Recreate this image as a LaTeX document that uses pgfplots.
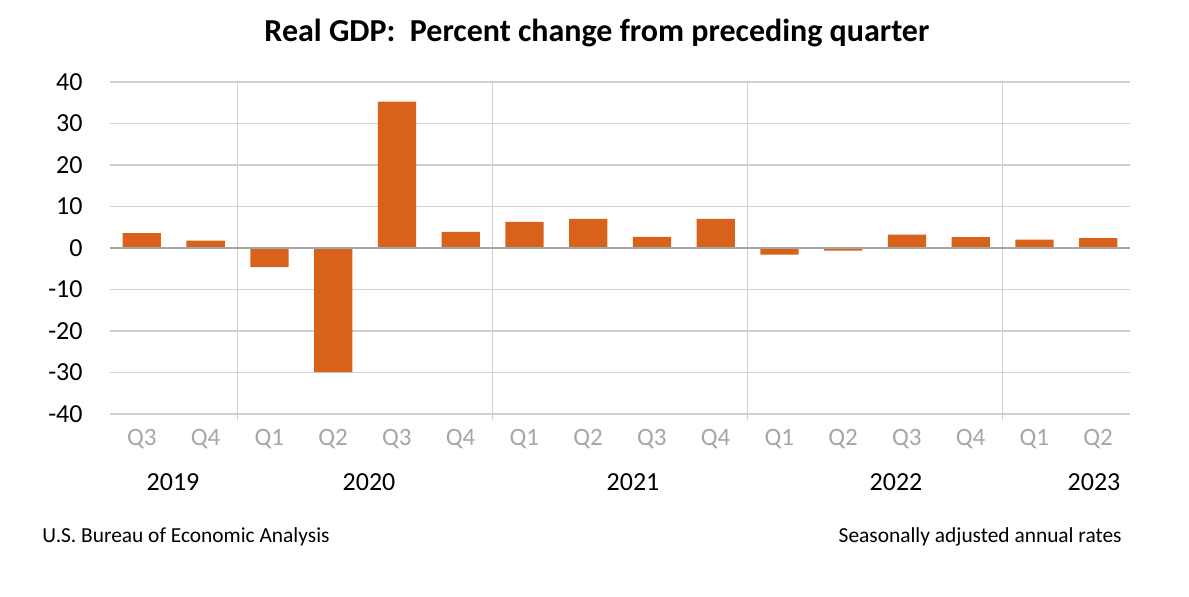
\documentclass[border=0pt]{standalone}
\usepackage{pgfplots}
\pgfplotsset{compat=1.18}
\usepackage{fontspec}
\setmainfont{Carlito}
\definecolor{barc}{HTML}{D9621B}
\definecolor{gridc}{HTML}{D0D0D0}
\definecolor{qgray}{HTML}{A6A6A6}
\begin{document}
\begin{tikzpicture}
\begin{axis}[
  scale only axis,
  width=510pt, height=166pt,
  xmin=-0.5, xmax=15.5,
  ymin=-40, ymax=40,
  ytick={-40,-30,...,40},
  xtick={0,...,15},
  xticklabels={Q3,Q4,Q1,Q2,Q3,Q4,Q1,Q2,Q3,Q4,Q1,Q2,Q3,Q4,Q1,Q2},
  xticklabel style={font=\fontsize{12.5}{14}\selectfont, text=qgray, inner sep=0pt, anchor=center, yshift=-12.5pt},
  yticklabel style={font=\fontsize{13}{15}\selectfont, inner sep=0pt, anchor=east, xshift=-13.5pt},
  /pgf/number format/assume math mode=true,
  axis line style={draw=none},
  major tick length=0pt,
  ymajorgrids, grid style={gridc, line width=0.8pt},
  extra x ticks={1.5,5.5,9.5,13.5},
  extra x tick labels={},
  extra x tick style={grid=major, xtick pos=bottom, tick align=outside, major tick length=3pt, tick style={gridc, line width=0.8pt}},
  clip=false,
]
\addplot[ybar, bar width=0.6, fill=barc, draw=none] coordinates {
 (0,3.6) (1,1.8) (2,-4.6) (3,-29.9) (4,35.3) (5,3.9) (6,6.3) (7,7.0)
 (8,2.7) (9,7.0) (10,-1.6) (11,-0.6) (12,3.2) (13,2.6) (14,2.0) (15,2.4)};
\addplot[color=black!35, line width=0.8pt] coordinates {(-0.5,0) (15.5,0)};
\end{axis}
\node[font=\fontsize{16}{18}\selectfont\bfseries] at ([shift={(243.5pt,190.5pt)}]current axis.south west) {Real GDP:\ \ Percent change from preceding quarter};
\begin{scope}[shift={(current axis.south west)}, every node/.style={font=\fontsize{13}{15}\selectfont, inner sep=0pt}]
\node at (31.5pt,-34pt) {2019};
\node at (129.5pt,-34pt) {2020};
\node at (261.5pt,-34pt) {2021};
\node at (393pt,-34pt) {2022};
\node at (492pt,-34pt) {2023};
\node[anchor=west, font=\fontsize{10.7}{13}\selectfont] at (-34pt,-61.5pt) {U.S. Bureau of Economic Analysis};
\node[anchor=east, font=\fontsize{10.7}{13}\selectfont] at (506pt,-61.5pt) {Seasonally adjusted annual rates};
\end{scope}
\pgfresetboundingbox
\path[use as bounding box] ([shift={(-55pt,-91pt)}]current axis.south west) rectangle ++(594.5pt,298pt);
\end{tikzpicture}
\end{document}
